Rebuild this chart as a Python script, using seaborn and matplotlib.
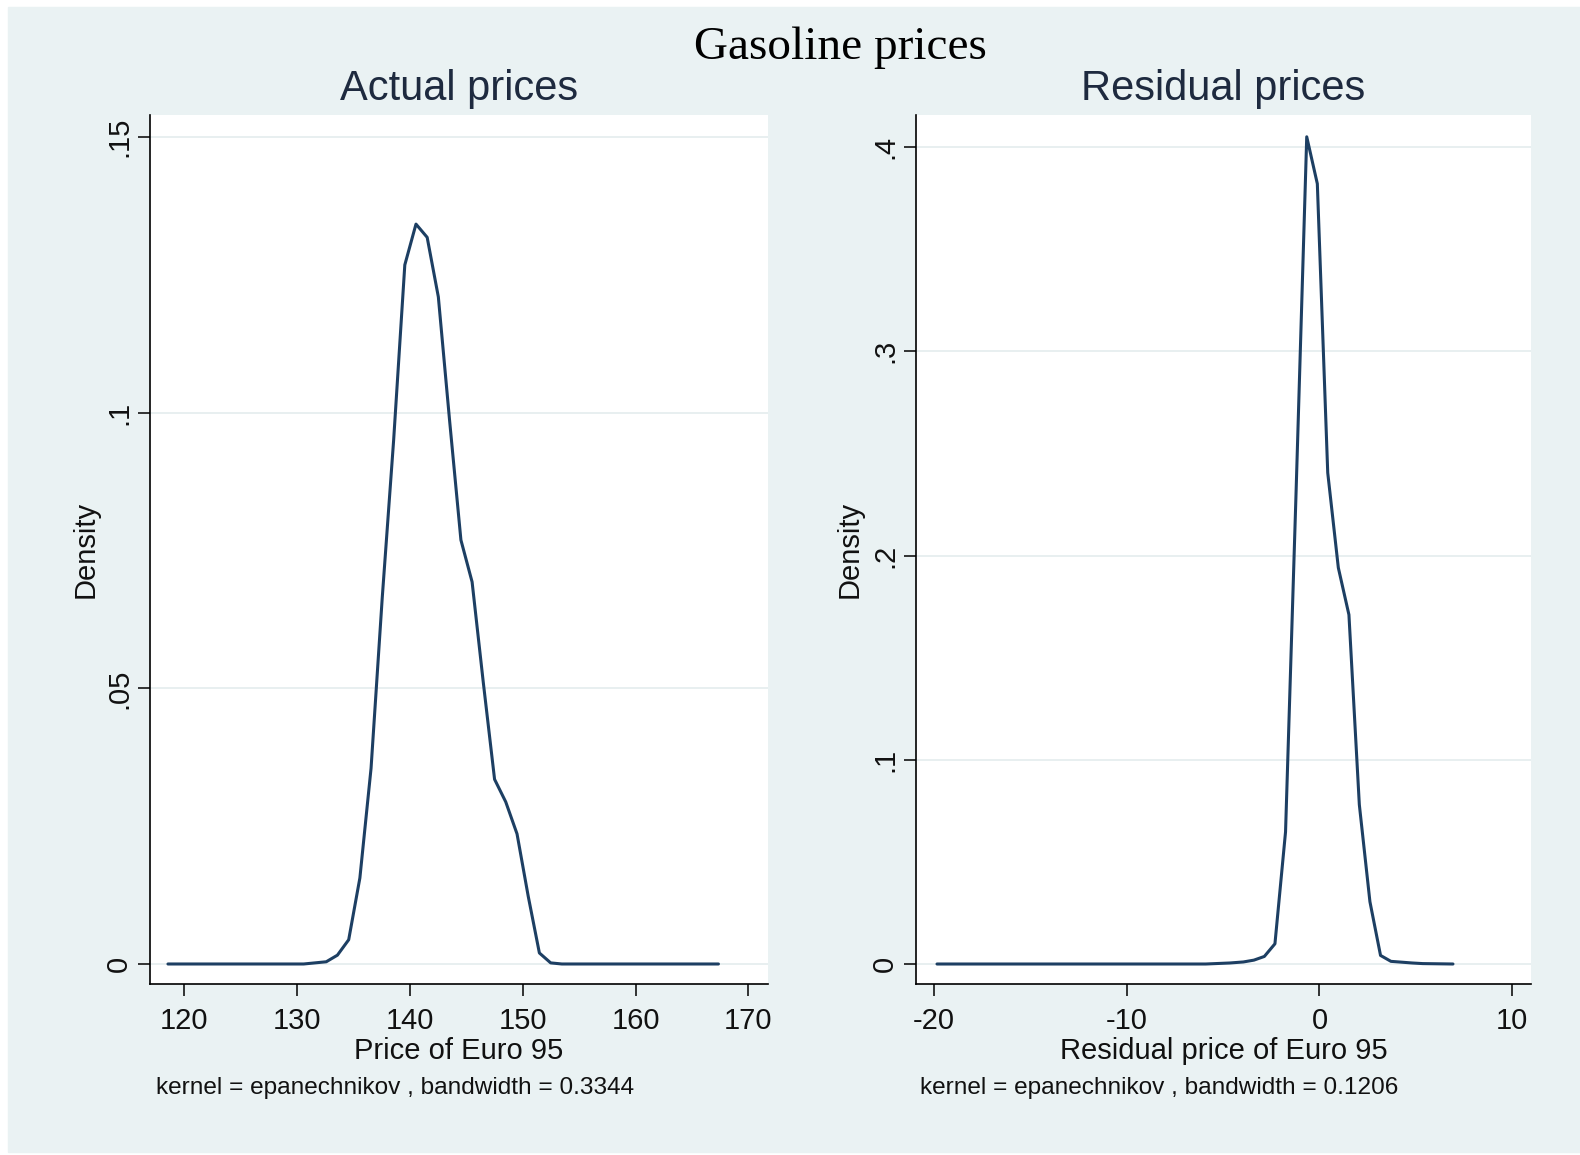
import matplotlib
matplotlib.use('Agg')
import matplotlib.pyplot as plt
from matplotlib.patches import Rectangle
import seaborn as sns

# kdensity of the actual price
actual_price = [118.58, 130.6, 131.60, 132.60, 133.59, 134.59, 135.58, 136.57, 137.56,
                138.57, 139.56, 140.55, 141.54, 142.53, 143.53, 144.53, 145.52, 146.51,
                147.51, 148.50, 149.50, 150.49, 151.48, 152.48, 153.47, 167.34]
actual_density = [0.0, 0.0, 0.0002, 0.0004, 0.0016, 0.0044, 0.0156, 0.0355, 0.0664,
                  0.0950, 0.1268, 0.1342, 0.1318, 0.1210, 0.0985, 0.0769, 0.0693, 0.0511,
                  0.0335, 0.0294, 0.0236, 0.0123, 0.0020, 0.0002, 0.0, 0.0]

# kdensity of the residual price
resid_price = [-19.85, -5.9, -4.65, -3.95, -3.40, -2.86, -2.31, -1.76, -1.21, -0.66,
               -0.11, 0.43, 0.98, 1.53, 2.07, 2.62, 3.17, 3.71, 4.26, 4.81, 5.36, 6.93]
resid_density = [0.0, 0.0, 0.0005, 0.0010, 0.0019, 0.0037, 0.0099, 0.0647, 0.232, 0.405,
                 0.382, 0.2405, 0.194, 0.171, 0.078, 0.0305, 0.0042, 0.0013, 0.0009,
                 0.0005, 0.0002, 0.0]

actual_xticks = [120, 130, 140, 150, 160, 170]
actual_yticks = [0, 0.05, 0.1, 0.15]
actual_ylabels = ['0', '.05', '.1', '.15']
resid_xticks = [-20, -10, 0, 10]
resid_yticks = [0, 0.1, 0.2, 0.3, 0.4]
resid_ylabels = ['0', '.1', '.2', '.3', '.4']

main_title = 'Gasoline prices'
panel_titles = ['Actual prices', 'Residual prices']
x_titles = ['Price of Euro 95', 'Residual price of Euro 95']
notes = ['kernel = epanechnikov , bandwidth = 0.3344',
         'kernel = epanechnikov , bandwidth = 0.1206']

sns.set_style('white')
plt.rcParams['font.family'] = ['Liberation Sans', 'DejaVu Sans']

W, H = 1580, 1155
fig = plt.figure(figsize=(W / 100, H / 100), dpi=100, facecolor='white')
# stata graph region
fig.patches.append(Rectangle((8 / W, 3 / H), 1 - 8 / W, 1 - 10 / H,
                             transform=fig.transFigure, color='#EAF2F3', zorder=-5))

line_col = '#1D3F63'
grid_col = '#E4ECEE'
txt_col = '#111111'

def px_box(l, r, t, b):
    return [l / W, 1 - b / H, (r - l) / W, (b - t) / H]

ax1 = fig.add_axes(px_box(150, 768, 115, 984))
ax2 = fig.add_axes(px_box(916, 1531, 115, 984))

panels = [
    (ax1, actual_price, actual_density, actual_xticks, actual_yticks, actual_ylabels,
     (116.99, 171.73), (-0.00363, 0.15399), 150, 618, 86),
    (ax2, resid_price, resid_density, resid_xticks, resid_yticks, resid_ylabels,
     (-20.94, 10.98), (-0.00979, 0.41567), 916, 615, 850),
]

for i, (ax, xs, ys, xt, yt, yl, xlim, ylim, left, w, ylab_x) in enumerate(panels):
    ax.set_facecolor('white')
    sns.lineplot(x=xs, y=ys, ax=ax, color=line_col, linewidth=2.2, sort=False)
    ax.set_xlim(*xlim)
    ax.set_ylim(*ylim)
    ax.set_xticks(xt)
    ax.set_xticklabels([str(t) for t in xt], fontsize=21)
    ax.set_yticks(yt)
    ax.set_yticklabels(yl, fontsize=21, rotation=90, va='center')
    ax.grid(axis='y', color=grid_col, linewidth=1.2)
    ax.grid(axis='x', visible=False)
    ax.set_axisbelow(True)
    for s in ['top', 'right']:
        ax.spines[s].set_visible(False)
    for s in ['left', 'bottom']:
        ax.spines[s].set_color('black')
        ax.spines[s].set_linewidth(1.2)
    ax.tick_params(axis='both', which='major', length=8.6, width=1.1, color='black',
                   labelcolor=txt_col, left=True, bottom=True)
    ax.tick_params(axis='x', pad=8)
    ax.tick_params(axis='y', pad=3.5)
    ax.set_xlabel(x_titles[i], fontsize=21, color=txt_col)
    ax.xaxis.label.set_va('center')
    ax.xaxis.set_label_coords(0.5, -(1051 - 984) / 869)
    ax.set_ylabel('Density', fontsize=21, color=txt_col)
    ax.yaxis.label.set_va('center')
    ax.yaxis.set_label_coords((ylab_x - left) / w, 0.5)

fig.text(840 / W, 1 - 48 / H, main_title, ha='center', va='center', fontsize=34,
         family=['Liberation Serif', 'DejaVu Serif'], color='black')
fig.text(459 / W, 1 - 89 / H, panel_titles[0], ha='center', va='center', fontsize=30,
         color='#1E2A3F')
fig.text(1223.5 / W, 1 - 89 / H, panel_titles[1], ha='center', va='center', fontsize=30,
         color='#1E2A3F')
fig.text(156 / W, 1 - 1088 / H, notes[0], ha='left', va='center', fontsize=17.6,
         color=txt_col)
fig.text(920 / W, 1 - 1088 / H, notes[1], ha='left', va='center', fontsize=17.6,
         color=txt_col)

fig.savefig('out.png', dpi=100, facecolor='white')
